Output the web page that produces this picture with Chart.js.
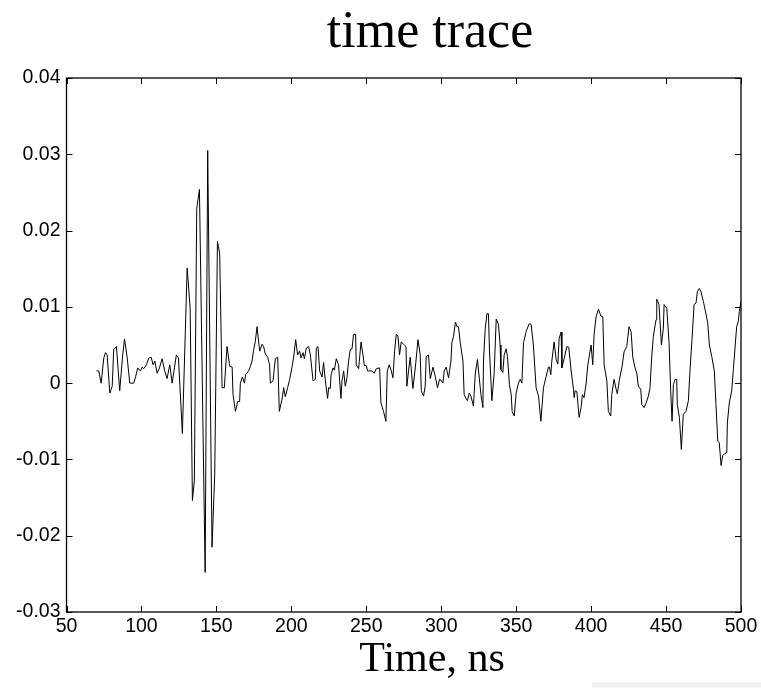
<!DOCTYPE html>
<html>
<head>
<meta charset="utf-8">
<script src="https://cdn.jsdelivr.net/npm/chart.js@4.4.1/dist/chart.umd.min.js"></script>
<style>
  html, body { margin: 0; padding: 0; background: #fff; }
  #wrap { width: 761px; height: 688px; }
</style>
</head>
<body>
<div id="wrap"><canvas id="traceChart" width="761" height="688"></canvas></div>
<script>
// time axis (ns) and amplitude
const timeNs = [
  70, 71.5, 73.1, 74.9, 76, 77.1, 78.9, 80.5, 81.5, 83.3,
  85.5, 87.3, 88.7, 90.5, 92.2, 94.9, 96.2, 97.5, 99.3, 100.5,
  101.5, 103.3, 104.9, 106.5, 107.8, 108.9, 110.5, 112, 113.8, 115.5,
  117.1, 118.9, 120.5, 122, 123.3, 124.7, 127.3, 130.5, 132.5, 134,
  135.3, 136.9, 138.7, 142.5, 144.2, 147.1, 148.9, 150.7, 152.2, 153.8,
  155.3, 157.1, 158.9, 160.5, 161.1, 162.7, 164.2, 165.5, 166, 167.3,
  168.7, 169.5, 171.5, 172.7, 173.8, 174.9, 176, 177.1, 178.9, 180.5,
  181.5, 182.7, 184.2, 185.5, 186, 187.8, 189.3, 190.9, 192, 193.8,
  194.9, 196, 197.5, 198.9, 200.5, 201.5, 202.9, 204.2, 205.5, 206.5,
  207.8, 208.7, 210, 211.5, 212.7, 214.5, 216, 216.7, 217.8, 218.9,
  220.5, 221.5, 222.7, 224.2, 224.9, 226, 226.5, 227.8, 228.7, 230,
  231.5, 233.1, 233.8, 234.9, 236, 237.1, 238.2, 239.3, 240.5, 241.5,
  242.9, 243.3, 244.9, 246.5, 247.8, 248.7, 250, 250.9, 252.7, 254,
  255.3, 256.7, 258.9, 259.8, 261.5, 263.1, 264, 265.3, 266.7, 267.8,
  268.9, 270, 271.1, 272.2, 273.3, 274.9, 276.5, 277.1, 278.2, 279.3,
  281.1, 282.7, 284.5, 286, 286.7, 288.2, 289.3, 290, 291.5, 292.7,
  294.5, 296, 297.5, 298.9, 299.8, 301.1, 302, 303.3, 304.9, 306.5,
  307.1, 308.2, 309.5, 310.5, 311.5, 312.7, 314.5, 315.3, 316.7, 317.5,
  318.7, 319.8, 321.5, 322.7, 324.2, 324.9, 326.5, 327.8, 328.2, 329.3,
  330.5, 331.5, 332.2, 333.8, 335.3, 336.7, 338.2, 339.3, 339.8, 341.1,
  342, 343.3, 344.2, 345.5, 346.7, 347.3, 348.7, 350, 351.5, 352.7,
  353.8, 354.9, 356.7, 358.7, 360, 361.5, 363.3, 364.9, 366.5, 368.2,
  370, 371.5, 372.2, 373.1, 373.8, 375.3, 376.7, 377.8, 378.7, 380,
  380.5, 382, 383.8, 385.1, 386.7, 388.2, 388.7, 389.3, 390.5, 392,
  393.3, 394.2, 395.3, 396.7, 397.8, 398.9, 400, 401.1, 402, 403.3,
  404.9, 406.5, 407.8, 408.7, 410.5, 411.5, 413.1, 413.8, 415.3, 416.7,
  417.5, 418.9, 420.5, 422, 423.8, 425.3, 426.7, 427.8, 429.3, 430.5,
  431.5, 433.1, 433.8, 435.3, 436.7, 438.2, 439.3, 440.5, 441.5, 443.3,
  443.8, 445.3, 446.9, 448.2, 448.7, 450.5, 452, 453.1, 454, 454.9,
  456, 457.1, 457.5, 458.9, 460.2, 461.5, 463.3, 464.9, 466, 467.3,
  468.7, 470, 470.9, 472.2, 473.3, 474.9, 476.5, 477.8, 478.9, 480.5,
  482.2, 483.3, 484.5, 485.5, 486.7, 487.8, 489.3, 490.5, 490.9, 492.2,
  493.8, 494.9, 496, 497.1, 498.2, 498.9, 500
];

const amplitude = [
  0.0016, 0.0016, 0, 0.0033, 0.004, 0.0037, -0.0013, -0.0004, 0.0044, 0.0048,
  -0.001, 0.0033, 0.0058, 0.0033, 0, 0, 0.0009, 0.002, 0.0016, 0.0021,
  0.0019, 0.0024, 0.0033, 0.0034, 0.0024, 0.0029, 0.0013, 0.002, 0.0032, 0.0016,
  0.0006, 0.0024, 0, 0.002, 0.0037, 0.0033, -0.0066, 0.0151, 0.0098, -0.0154,
  -0.0128, 0.0229, 0.0254, -0.0248, 0.0305, -0.0215, -0.0119, 0.0186, 0.017, -0.0006,
  -0.0006, 0.0048, 0.0022, 0.0021, -0.0015, -0.0037, -0.0024, -0.0024, 0, 0.0008,
  0, 0.0011, 0.0016, 0.0022, 0.0029, 0.0044, 0.0055, 0.0074, 0.0042, 0.0051,
  0.0048, 0.0038, 0.0034, 0.0024, 0, 0.0003, 0.0032, 0.0034, -0.0037, -0.0021,
  -0.0006, -0.0018, -0.0006, 0.0005, 0.0022, 0.0033, 0.0057, 0.0037, 0.0042, 0.0033,
  0.004, 0.0032, 0.0046, 0.0048, 0.0037, 0.0003, 0.0005, 0.0046, 0.0048, 0.0016,
  0.0008, 0.0027, 0.0003, -0.002, -0.0006, -0.0007, 0.0011, 0.002, 0.0017, 0.0032,
  0.0024, -0.002, 0.0003, 0.0016, -0.0004, 0.0007, 0.0029, 0.0044, 0.0045, 0.0064,
  0.0064, 0.0024, 0.0019, 0.0054, 0.0037, 0.0023, 0.0023, 0.0016, 0.0016, 0.0016,
  0.0013, 0.0019, 0.002, -0.0026, -0.0037, -0.005, 0.0016, 0.0024, 0.0016, 0.0007,
  0.0042, 0.0064, 0.0062, 0.0037, 0.0054, 0.0051, 0.0048, -0.0004, 0.0016, 0.0034,
  -0.0007, 0.002, 0.0057, 0.0037, -0.001, -0.0017, -0.0004, 0.0035, 0.0037, 0.0006,
  0.0021, 0.0009, -0.0006, 0.0005, 0.0004, 0, 0.0016, 0.0021, 0.0007, 0.0029,
  0.0053, 0.0061, 0.008, 0.0074, 0.0074, 0.0053, 0.0029, -0.0015, -0.0021, -0.0023,
  -0.0013, -0.0017, -0.003, 0.0012, 0.0031, 0.0016, -0.0015, -0.0032, 0.0029, 0.007,
  0.0091, 0.0091, 0.0042, -0.0023, 0.0013, 0.0084, 0.0077, 0.005, 0.0018, 0.0014,
  0.0037, 0.0045, 0.0035, -0.0002, -0.0015, -0.0037, -0.0043, -0.0013, 0, 0.0005,
  0, 0.0053, 0.0068, 0.0078, 0.0077, 0.005, -0.0006, -0.0017, -0.005, -0.0006,
  0.0009, 0.0021, 0.0021, 0.0011, 0.0029, 0.0054, 0.0031, 0.0025, 0.0059, 0.0067,
  0.002, 0.0032, 0.0048, 0.0047, 0.0016, -0.0008, -0.0019, -0.001, -0.0011, -0.0045,
  -0.0032, -0.0015, -0.0019, 0, 0.0024, 0.0037, 0.005, 0.0024, 0.0064, 0.0087,
  0.0097, 0.0088, 0.0087, 0.0024, 0.0003, -0.0037, -0.0043, -0.0015, 0.0005, -0.0008,
  -0.0014, 0.0005, 0.002, 0.0041, 0.0048, 0.0074, 0.0067, 0.0034, 0.002, 0.0013,
  -0.0004, -0.0008, -0.0028, -0.0032, -0.0026, -0.0017, -0.0006, 0.0037, 0.0061, 0.0083,
  0.011, 0.0103, 0.005, 0.0072, 0.0103, 0.0098, 0.0053, -0.001, -0.005, -0.0002,
  0.0005, 0.0005, -0.0028, -0.0045, -0.0087, -0.0041, -0.0037, -0.0023, 0.0018, 0.0057,
  0.0103, 0.0105, 0.012, 0.0124, 0.012, 0.0107, 0.0092, 0.0079, 0.005, 0.0035,
  0.0016, -0.0028, -0.0076, -0.0078, -0.0108, -0.0095, -0.0092, -0.0091, -0.0052, -0.0026,
  -0.001, 0.0018, 0.0046, 0.0074, 0.0081, 0.0094, 0.0107
];

const xTicks = [50, 100, 150, 200, 250, 300, 350, 400, 450, 500];
const xTickLabels = ['50', '100', '150', '200', '250', '300', '350', '400', '450', '500'];
const yTicks = [-0.03, -0.02, -0.01, 0, 0.01, 0.02, 0.03, 0.04];
const yTickLabels = ['-0.03', '-0.02', '-0.01', '0', '0.01', '0.02', '0.03', '0.04'];

const titleText = 'time trace';
const xAxisText = 'Time, ns';

const points = timeNs.map((t, i) => ({x: t, y: amplitude[i]}));

function nearestLabel(values, labels, v) {
    let best = 0;
    values.forEach((tv, i) => {
        if (Math.abs(tv - v) < Math.abs(values[best] - v)) best = i;
    });
    return labels[best];
}

// frame, inward ticks on all four sides, title and axis label (matlab look)
const matlabFrame = {
    id: 'matlabFrame',
    afterDraw(chart) {
        const ctx = chart.ctx;
        const area = chart.chartArea;
        const xs = chart.scales.x;
        const ys = chart.scales.y;
        const tick = 6;

        ctx.save();
        ctx.strokeStyle = '#000';
        ctx.lineWidth = 1.3;
        ctx.strokeRect(area.left, area.top, area.right - area.left, area.bottom - area.top);

        ctx.lineWidth = 1;
        ctx.beginPath();
        xTicks.forEach(v => {
            const px = Math.round(xs.getPixelForValue(v)) + 0.5;
            ctx.moveTo(px, area.bottom);
            ctx.lineTo(px, area.bottom - tick);
            ctx.moveTo(px, area.top);
            ctx.lineTo(px, area.top + tick);
        });
        yTicks.forEach(v => {
            const py = Math.round(ys.getPixelForValue(v)) + 0.5;
            ctx.moveTo(area.left, py);
            ctx.lineTo(area.left + tick, py);
            ctx.moveTo(area.right, py);
            ctx.lineTo(area.right - tick, py);
        });
        ctx.stroke();

        ctx.fillStyle = '#000';
        ctx.textAlign = 'center';
        ctx.textBaseline = 'alphabetic';
        ctx.font = '52px "Liberation Serif", "Times New Roman", serif';
        ctx.fillText(titleText, 430, 47);
        ctx.font = '42px "Liberation Serif", "Times New Roman", serif';
        ctx.fillText(xAxisText, 432, 671);

        // faint strip in the lower right corner of the original
        ctx.fillStyle = '#f2f2f2';
        ctx.fillRect(592, 682, 169, 6);
        ctx.restore();
    }
};

const ctx = document.getElementById('traceChart').getContext('2d');

new Chart(ctx, {
    type: 'scatter',
    data: {
        datasets: [
            {
                label: 'trace',
                data: points,
                showLine: true,
                borderColor: '#000',
                borderWidth: 1,
                pointRadius: 0,
                tension: 0
            }
        ]
    },
    options: {
        responsive: false,
        animation: false,
        devicePixelRatio: 1,
        layout: {
            padding: {top: 78, right: 20, left: 0, bottom: 0}
        },
        plugins: {
            legend: {display: false},
            tooltip: {enabled: false},
            title: {display: false}
        },
        scales: {
            x: {
                type: 'linear',
                min: 50,
                max: 500,
                afterBuildTicks: scale => {
                    scale.ticks = xTicks.map(v => ({value: v}));
                },
                afterFit: scale => {
                    scale.height = 76;
                },
                grid: {display: false, drawTicks: false},
                border: {display: false},
                ticks: {
                    color: '#000',
                    padding: 3,
                    maxRotation: 0,
                    font: {family: '"Liberation Sans", Arial, sans-serif', size: 19.5},
                    callback: v => nearestLabel(xTicks, xTickLabels, v)
                }
            },
            y: {
                type: 'linear',
                min: -0.03,
                max: 0.04,
                afterBuildTicks: scale => {
                    scale.ticks = yTicks.map(v => ({value: v}));
                },
                afterFit: scale => {
                    scale.width = 66.5;
                },
                grid: {display: false, drawTicks: false},
                border: {display: false},
                ticks: {
                    color: '#000',
                    padding: 6,
                    font: {family: '"Liberation Sans", Arial, sans-serif', size: 19.5},
                    callback: v => nearestLabel(yTicks, yTickLabels, v)
                }
            }
        }
    },
    plugins: [matlabFrame]
});
</script>
</body>
</html>
